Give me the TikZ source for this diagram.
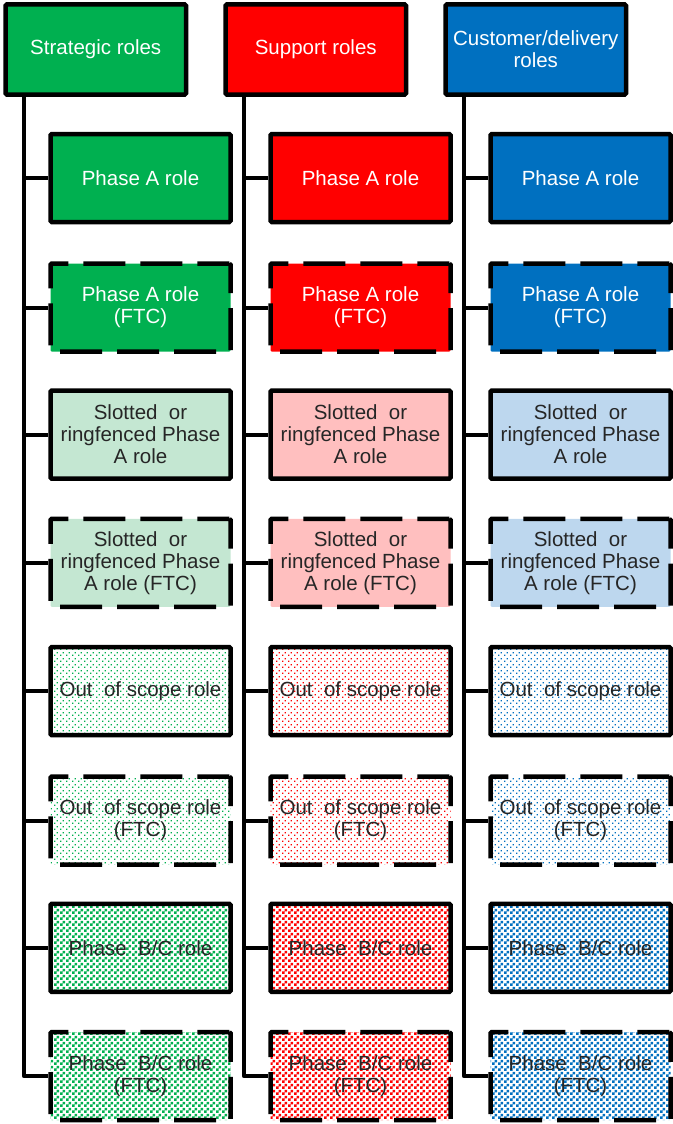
\documentclass[tikz,border=0pt]{standalone}
\usepackage{fontspec}
\setmainfont{Liberation Sans}
\usetikzlibrary{patterns}

\definecolor{stratgreen}{HTML}{00B050}
\definecolor{stratlight}{HTML}{C4E7D2}
\definecolor{supred}{HTML}{FF0000}
\definecolor{suplight}{HTML}{FFBFBF}
\definecolor{custblue}{HTML}{0070C0}
\definecolor{custlight}{HTML}{BDD7EE}
\definecolor{darktext}{HTML}{262626}

% small checker board fill for Phase B/C roles
\pgfdeclarepatternformonly{tinycheck}{\pgfpointorigin}{\pgfqpoint{6pt}{6pt}}{\pgfqpoint{6pt}{6pt}}{%
  \pgfpathrectangle{\pgfpointorigin}{\pgfqpoint{3pt}{3pt}}%
  \pgfpathrectangle{\pgfqpoint{3pt}{3pt}}{\pgfqpoint{3pt}{3pt}}%
  \pgfusepath{fill}}

% sparse staggered dots for out-of-scope roles
\pgfdeclarepatternformonly{sparsedots}{\pgfpointorigin}{\pgfqpoint{6pt}{6pt}}{\pgfqpoint{6pt}{6pt}}{%
  \pgfpathrectangle{\pgfpointorigin}{\pgfqpoint{1.5pt}{1.5pt}}%
  \pgfpathrectangle{\pgfqpoint{3pt}{3pt}}{\pgfqpoint{1.5pt}{1.5pt}}%
  \pgfusepath{fill}}

\tikzset{
  basebox/.style={draw=black, line width=4.5pt, rectangle, rounded corners=1.2pt,
    minimum width=180pt, minimum height=88pt, inner sep=0pt, align=center,
    font=\fontsize{20.5}{22}\selectfont},
  headbox/.style={basebox, minimum width=180.5pt, minimum height=90pt, fill=#1, text=white},
  ftc/.style={dash pattern=on 42pt off 15pt, dash phase=10pt},
  solidfill/.style={fill=#1, text=white},
  lightfill/.style={fill=#1, text=darktext},
  dotfill/.style={pattern=sparsedots, pattern color=#1, text=darktext},
  checkfill/.style={pattern=tinycheck, pattern color=#1, text=darktext},
  trunk/.style={draw=black, line width=4pt, line join=round},
}

\begin{document}
\begin{tikzpicture}[x=1pt,y=-1pt]
\useasboundingbox (0,0) rectangle (672,1124);

% column headers
\node[headbox=stratgreen] (hs) at (95.75,49.5) {Strategic roles};
\node[headbox=supred]     (hp) at (315.75,49.5) {Support roles};
\node[headbox=custblue]   (hc) at (535.75,49.5) {Customer/delivery\\roles};

\foreach \col/\x/\main/\light in {s/140.5/stratgreen/stratlight,
                                  p/360.5/supred/suplight,
                                  c/580.5/custblue/custlight} {
  % trunk position below the header
  \coordinate (t\col) at ([xshift=20.5pt]h\col.south west);

  \node[basebox, solidfill=\main]        (\col-1) at (\x,178.0) {Phase A role};
  \node[basebox, ftc, solidfill=\main]   (\col-2) at (\x,307.5) {Phase A role\\(FTC)};
  \node[basebox, lightfill=\light]       (\col-3) at (\x,434.6) {Slotted\ \ or\\ringfenced Phase\\A role};
  \node[basebox, ftc, lightfill=\light]  (\col-4) at (\x,562.9) {Slotted\ \ or\\ringfenced Phase\\A role (FTC)};
  \node[basebox, dotfill=\main]          (\col-5) at (\x,691.2) {Out\ \ of scope role};
  \node[basebox, ftc, dotfill=\main]     (\col-6) at (\x,820.5) {Out\ \ of scope role\\(FTC)};
  \node[basebox, checkfill=\main]        (\col-7) at (\x,947.8) {Phase\ \ B/C role};
  \node[basebox, ftc, checkfill=\main]   (\col-8) at (\x,1076.1) {Phase\ \ B/C role\\(FTC)};

  % vertical trunk ending in the last branch
  \draw[trunk] (t\col) |- (\col-8.west);
  \foreach \r in {1,...,7} {
    \draw[trunk] (t\col |- \col-\r.west) -- (\col-\r.west);
  }
}
\end{tikzpicture}
\end{document}
